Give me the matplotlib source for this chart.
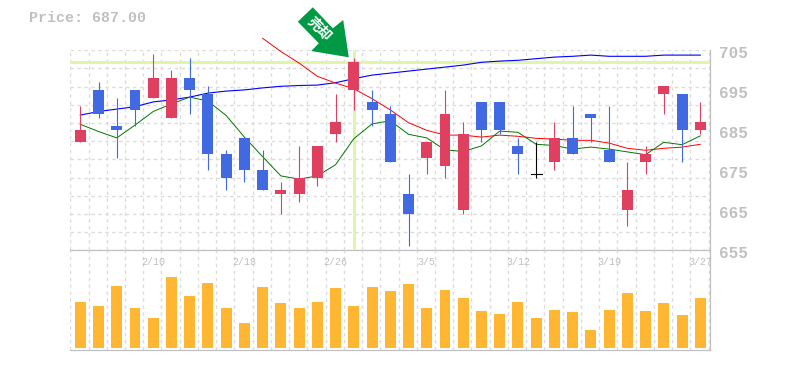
#!/usr/bin/env python3

import matplotlib
matplotlib.use("Agg")
import matplotlib.pyplot as plt
from matplotlib.patches import Polygon, Rectangle
from matplotlib.transforms import IdentityTransform

plt.rcParams["font.family"] = ["Liberation Mono", "DejaVu Sans Mono"]

OPENS = [682, 695, 686, 695, 693, 688, 698, 694, 679, 683, 675, 669, 669, 673, 684, 695, 692, 689,
         669, 678, 676, 665, 692, 692, 681, 674, 677, 683, 689, 680, 665, 677, 694, 694, 685]
CLOSES = [685, 689, 685, 690, 698, 698, 695, 679, 673, 675, 670, 670, 673, 681, 687, 702, 690, 677,
          664, 682, 689, 684, 685, 685, 679, 674, 683, 679, 688, 677, 670, 679, 696, 685, 687]
HIGHS = [691, 697, 693, 695, 704, 700, 703, 696, 680, 683, 680, 672, 681, 681, 694, 703, 695, 691,
         674, 682, 695, 687, 692, 692, 683, 682, 687, 691, 689, 691, 677, 681, 696, 694, 692]
LOWS = [682, 688, 678, 686, 693, 688, 689, 675, 670, 672, 670, 664, 667, 671, 682, 690, 686, 677,
        656, 674, 673, 664, 682, 684, 674, 673, 675, 679, 682, 677, 661, 674, 689, 677, 684]

MA_LONG = [688.8, 689.7, 690.3, 690.9, 692.1, 692.6, 693.3, 694.3, 694.8, 695.1, 695.6, 696.0,
           696.2, 696.3, 696.9, 697.9, 698.8, 699.3, 699.8, 700.3, 700.8, 701.3, 702.0, 702.3,
           702.5, 702.9, 703.3, 703.5, 703.8, 703.5, 703.5, 703.5, 703.8, 703.8, 703.8]
MA_SHORT = [686.5, 684.7, 683.1, 686.3, 689.7, 691.6, 693.3, 692.3, 688.7, 683.3, 678.4, 673.6,
            672.8, 673.6, 676.4, 682.9, 686.6, 687.4, 684.0, 683.1, 680.1, 679.7, 681.1, 684.8,
            684.5, 681.5, 681.2, 680.3, 680.8, 680.3, 679.6, 678.9, 682.0, 681.4, 683.6]
MA_MID = [708.0, 704.7, 701.8, 698.5, 696.8, 695.4, 692.9, 690.1, 686.9, 685.0, 683.8, 683.8,
          683.3, 683.8, 683.5, 683.0, 682.8, 682.5, 682.5, 681.8, 680.5, 680.0, 680.5, 680.8, 681.5]
MA_MID_START = 10

VOLUMES = [46, 42, 62, 40, 30, 71, 52, 65, 40, 25, 61, 45, 40, 46, 60, 42, 61, 57,
           64, 40, 58, 50, 37, 34, 46, 30, 38, 36, 18, 38, 55, 37, 45, 33, 50]

DATE_POS = [4, 9, 14, 19, 24, 29, 34]
DATE_LABELS = ["2/10", "2/18", "2/26", "3/5", "3/12", "3/19", "3/27"]
PRICE_TICKS = [655, 665, 675, 685, 695, 705]
MARK_INDEX = 15
MARK_PRICE = 702

UP = "#e0405f"
DOWN = "#4169e1"
GRID = "#dcdcdc"
FRAME = "#c0c0c0"
MARK = "#e0f5a8"
W, H = 785, 370


def px_axes(fig, left, top, right, bottom):
    return fig.add_axes([left / W, 1 - bottom / H, (right - left) / W, (bottom - top) / H])


def setup_x(ax):
    ax.set_xlim(-0.548, 34.55)
    ax.set_xticks([k - 0.548 for k in range(36)])
    ax.set_yticks([])
    ax.tick_params(length=0, labelbottom=False, labelleft=False)
    ax.grid(True, axis="x", color=GRID, linestyle=(0, (2.5, 2.5)), linewidth=1)
    ax.set_axisbelow(True)
    ax.patch.set_visible(False)
    for side in ("top", "left"):
        ax.spines[side].set_visible(False)
    for side in ("right", "bottom"):
        ax.spines[side].set_color(FRAME)
        ax.spines[side].set_linewidth(0.9)


fig = plt.figure(figsize=(W / 100, H / 100), dpi=100)
ax = px_axes(fig, 70.3, 50.3, 710.3, 250.3)
vol = px_axes(fig, 70.3, 250.3, 710.3, 350.3)

setup_x(ax)
setup_x(vol)

# price panel
ax.set_ylim(655, 705)
ax.set_yticks([655 + k * 50 / 11 for k in range(12)])
ax.grid(True, axis="y", color=GRID, linestyle=(0, (2.5, 2.5)), linewidth=1)
ax.axhline(MARK_PRICE, color=MARK, linewidth=2.2, zorder=1.5)
ax.plot([MARK_INDEX, MARK_INDEX], [655.4, 705], color=MARK, linewidth=2.2, zorder=1.5, solid_capstyle="butt")

xs = list(range(len(OPENS)))
ax.plot(xs, MA_LONG, color="#0000ff", linewidth=0.8, zorder=2)
ax.plot(xs, MA_SHORT, color="#007700", linewidth=0.7, zorder=2)
ax.plot(xs[MA_MID_START:], MA_MID, color="#ff0000", linewidth=0.7, zorder=2, clip_on=False)

for i in xs:
    o, c = OPENS[i], CLOSES[i]
    color = "black" if o == c else (UP if c > o else DOWN)
    ax.plot([i, i], [LOWS[i], HIGHS[i]], color=color, linewidth=0.8, zorder=3, solid_capstyle="butt")
    if o == c:
        ax.plot([i - 0.3, i + 0.3], [o, o], color=color, linewidth=0.8, zorder=3)
    else:
        ax.add_patch(Rectangle((i - 0.3, min(o, c)), 0.6, abs(c - o), facecolor=color, edgecolor="none", zorder=3))

for value in PRICE_TICKS:
    ax.annotate(str(value), xy=(1, value), xycoords=ax.get_yaxis_transform(),
                xytext=(6.5, -2.2), textcoords="offset points", color=FRAME,
                fontsize=11.5, fontweight="bold", va="center", ha="left", annotation_clip=False)

# volume panel
vol.set_ylim(-2.3, 97.7)
vol.bar(xs, VOLUMES, width=0.6, color="#ffb733", zorder=2)
for pos, label in zip(DATE_POS, DATE_LABELS):
    vol.text(pos, 0.88, label, transform=vol.get_xaxis_transform(), color=FRAME,
             fontsize=7.2, ha="center", va="center", clip_on=False)

fig.text(29 / W, 1 - 18 / H, "Price: 687.00", color=FRAME, fontsize=10.8, fontweight="bold",
         va="center", ha="left")

# arrow pointing at the marked candle
tip_x, tip_y = ax.transData.transform((MARK_INDEX, MARK_PRICE))
arrow = [(0, 0), (-37.6, -6.3), (-30, -14), (-51, -35.6), (-36, -50), (-16, -29), (-5.6, -37.3)]
arrow_px = [(tip_x - 5 + dx, tip_y + 5 - dy) for dx, dy in arrow]
fig.add_artist(Polygon(arrow_px, closed=True, facecolor="#009944", edgecolor="none",
                       transform=IdentityTransform(), zorder=5))
fig.text(319 / W, 1 - 29 / H, "売却", color="white", fontsize=10, fontweight="bold", rotation=-45,
         rotation_mode="anchor", ha="center", va="center", family=["Noto Sans CJK JP", "DejaVu Sans"],
         zorder=6)

fig.savefig("out.png", dpi=100)
plt.close(fig)
